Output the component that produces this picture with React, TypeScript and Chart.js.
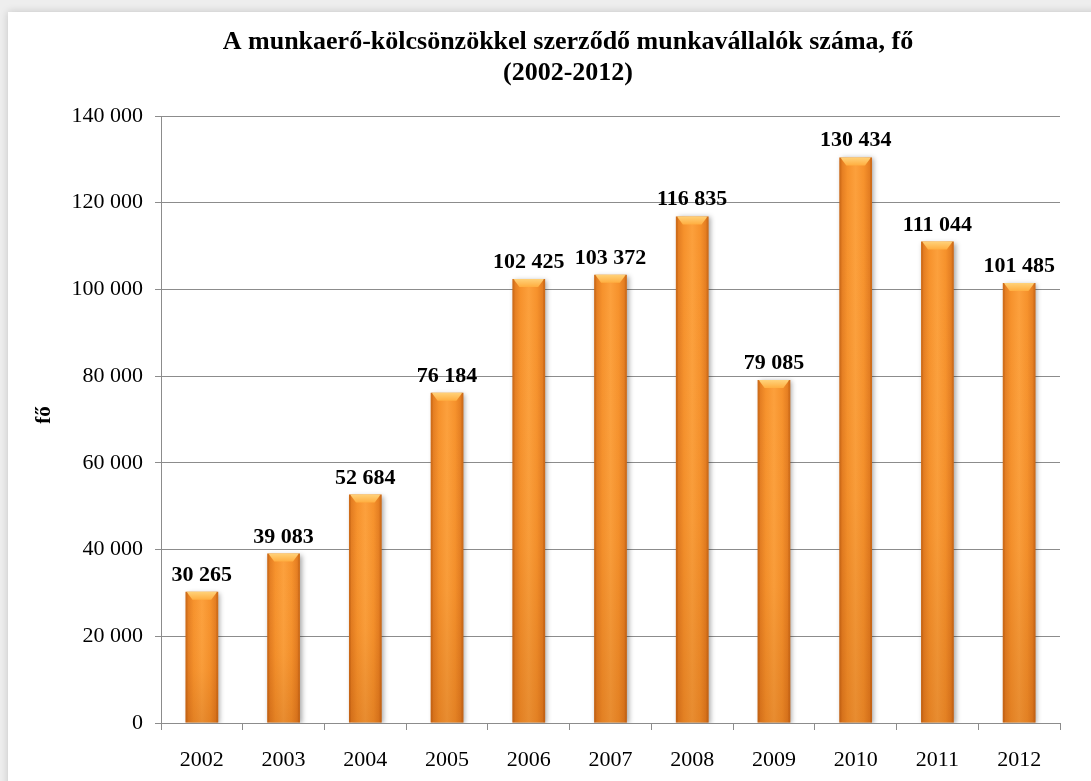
import React, { useEffect, useRef } from "react";
import { Chart, registerables } from "chart.js";

Chart.register(...registerables);

const titleLines = [
  "A munkaerő-kölcsönzökkel szerződő munkavállalók száma, fő",
  "(2002-2012)",
];
const yAxisTitle = "fő";
const years = ["2002", "2003", "2004", "2005", "2006", "2007", "2008", "2009", "2010", "2011", "2012"];
const workers = [30265, 39083, 52684, 76184, 102425, 103372, 116835, 79085, 130434, 111044, 101485];
const yMin = 0;
const yMax = 140000;
const yStep = 20000;

const SERIF = "'Liberation Serif', 'Times New Roman', serif";
const fmt = (v: number) => {
  const s = Math.round(v).toString();
  return s.replace(/\B(?=(\d{3})+(?!\d))/g, " ");
};

const BAR_PCT = 0.4;

const shadowPlugin = {
  id: "barShadow",
  beforeDatasetsDraw(chart: any) {
    const c = chart.ctx;
    c.save();
    c.shadowColor = "rgba(0,0,0,0.35)";
    c.shadowBlur = 5;
    c.shadowOffsetX = 2;
    c.shadowOffsetY = 1;
  },
  afterDatasetsDraw(chart: any) {
    chart.ctx.restore();
  },
};

const decoPlugin = {
  id: "barDeco",
  afterDatasetsDraw(chart: any) {
    const c = chart.ctx;
    const meta = chart.getDatasetMeta(0);
    meta.data.forEach((el: any, i: number) => {
      const { x, y, base, width } = el.getProps(["x", "y", "base", "width"], true);
      if (![x, y, base, width].every((v) => Number.isFinite(v))) return;
      const l = x - width / 2;
      const r = x + width / 2;
      c.save();
      const vg = c.createLinearGradient(0, y, 0, base);
      vg.addColorStop(0, "rgba(255,255,255,0)");
      vg.addColorStop(0.6, "rgba(150,60,0,0.04)");
      vg.addColorStop(1, "rgba(150,60,0,0.2)");
      c.fillStyle = vg;
      c.fillRect(l, y, width, base - y);
      const bg = c.createLinearGradient(0, y, 0, y + 8);
      bg.addColorStop(0, "#ffd27a");
      bg.addColorStop(1, "#ffae40");
      c.beginPath();
      c.moveTo(l + 1, y);
      c.lineTo(r - 1, y);
      c.lineTo(r - 7, y + 8);
      c.lineTo(l + 7, y + 8);
      c.closePath();
      c.fillStyle = bg;
      c.fill();
      c.fillStyle = "rgba(150,70,10,0.2)";
      c.fillRect(l, y, 2, base - y);
      c.fillRect(r - 2, y, 2, base - y);
      c.restore();

      c.save();
      c.font = `bold 22px ${SERIF}`;
      c.fillStyle = "#000";
      c.textAlign = "center";
      c.textBaseline = "alphabetic";
      c.fillText(fmt(workers[i]), x, y - 11);
      c.restore();
    });
  },
};

const textPlugin = {
  id: "texts",
  afterDraw(chart: any) {
    const c = chart.ctx;
    c.save();
    c.fillStyle = "#000";
    c.textAlign = "center";
    c.textBaseline = "middle";
    c.font = `bold 26px ${SERIF}`;
    c.fillText(titleLines[0], 568, 42);
    c.fillText(titleLines[1], 568, 73);
    c.translate(45, 415);
    c.rotate(-Math.PI / 2);
    c.font = `bold 21px ${SERIF}`;
    c.fillText(yAxisTitle, 0, 0);
    c.restore();
  },
};

export default function App() {
  const ref = useRef<HTMLCanvasElement | null>(null);
  useEffect(() => {
    if (!ref.current) return;
    const chart = new Chart(ref.current, {
      type: "bar",
      data: {
        labels: years,
        datasets: [
          {
            data: workers,
            barPercentage: BAR_PCT,
            categoryPercentage: 1,
            borderWidth: 0,
            backgroundColor: (ctx: any) => {
              const ch = ctx.chart;
              const xs = ch.scales && ch.scales.x;
              if (!xs || ctx.dataIndex === undefined) return "#f7941e";
              const xc = xs.getPixelForValue(ctx.dataIndex);
              const w = (xs.width / years.length) * BAR_PCT;
              if (!Number.isFinite(xc) || !Number.isFinite(w) || w <= 0) return "#f7941e";
              const g = ch.ctx.createLinearGradient(xc - w / 2, 0, xc + w / 2, 0);
              g.addColorStop(0, "#dc741c");
              g.addColorStop(0.25, "#f6922c");
              g.addColorStop(0.5, "#fca03c");
              g.addColorStop(0.75, "#f6922c");
              g.addColorStop(1, "#dc741c");
              return g;
            },
          },
        ],
      },
      options: {
        responsive: false,
        animation: false,
        devicePixelRatio: 1,
        layout: { padding: { top: 116, right: 31, left: 0, bottom: 0 } },
        plugins: {
          legend: { display: false },
          title: { display: false },
          tooltip: { enabled: false },
        },
        scales: {
          y: {
            min: yMin,
            max: yMax,
            afterFit: (s: any) => {
              s.width = 161;
            },
            ticks: {
              stepSize: yStep,
              color: "#000",
              padding: 12,
              font: { family: SERIF, size: 22 },
              callback: (v: any) => fmt(Number(v)),
            },
            grid: { color: "#8c8c8c", tickLength: 6, lineWidth: 1 },
            border: { color: "#8c8c8c" },
          },
          x: {
            afterFit: (s: any) => {
              s.height = 58;
            },
            ticks: {
              color: "#000",
              padding: 17,
              font: { family: SERIF, size: 22 },
            },
            grid: {
              drawOnChartArea: false,
              drawTicks: true,
              tickLength: 7,
              color: "#8c8c8c",
              offset: true,
            },
            border: { color: "#8c8c8c" },
          },
        },
      },
      plugins: [shadowPlugin, decoPlugin, textPlugin],
    } as any);
    return () => chart.destroy();
  }, []);

  return (
    <div
      style={{
        position: "fixed",
        left: 0,
        top: 0,
        width: 1091,
        height: 781,
        background: "#eeeeee",
        overflow: "hidden",
      }}
    >
      <div
        style={{
          position: "absolute",
          left: 8,
          top: 12,
          width: 1120,
          height: 800,
          background: "#ffffff",
          boxShadow: "0 0 8px rgba(0,0,0,0.18)",
        }}
      />
      <canvas
        ref={ref}
        width={1091}
        height={781}
        style={{ position: "absolute", left: 0, top: 0, width: 1091, height: 781 }}
      />
    </div>
  );
}
